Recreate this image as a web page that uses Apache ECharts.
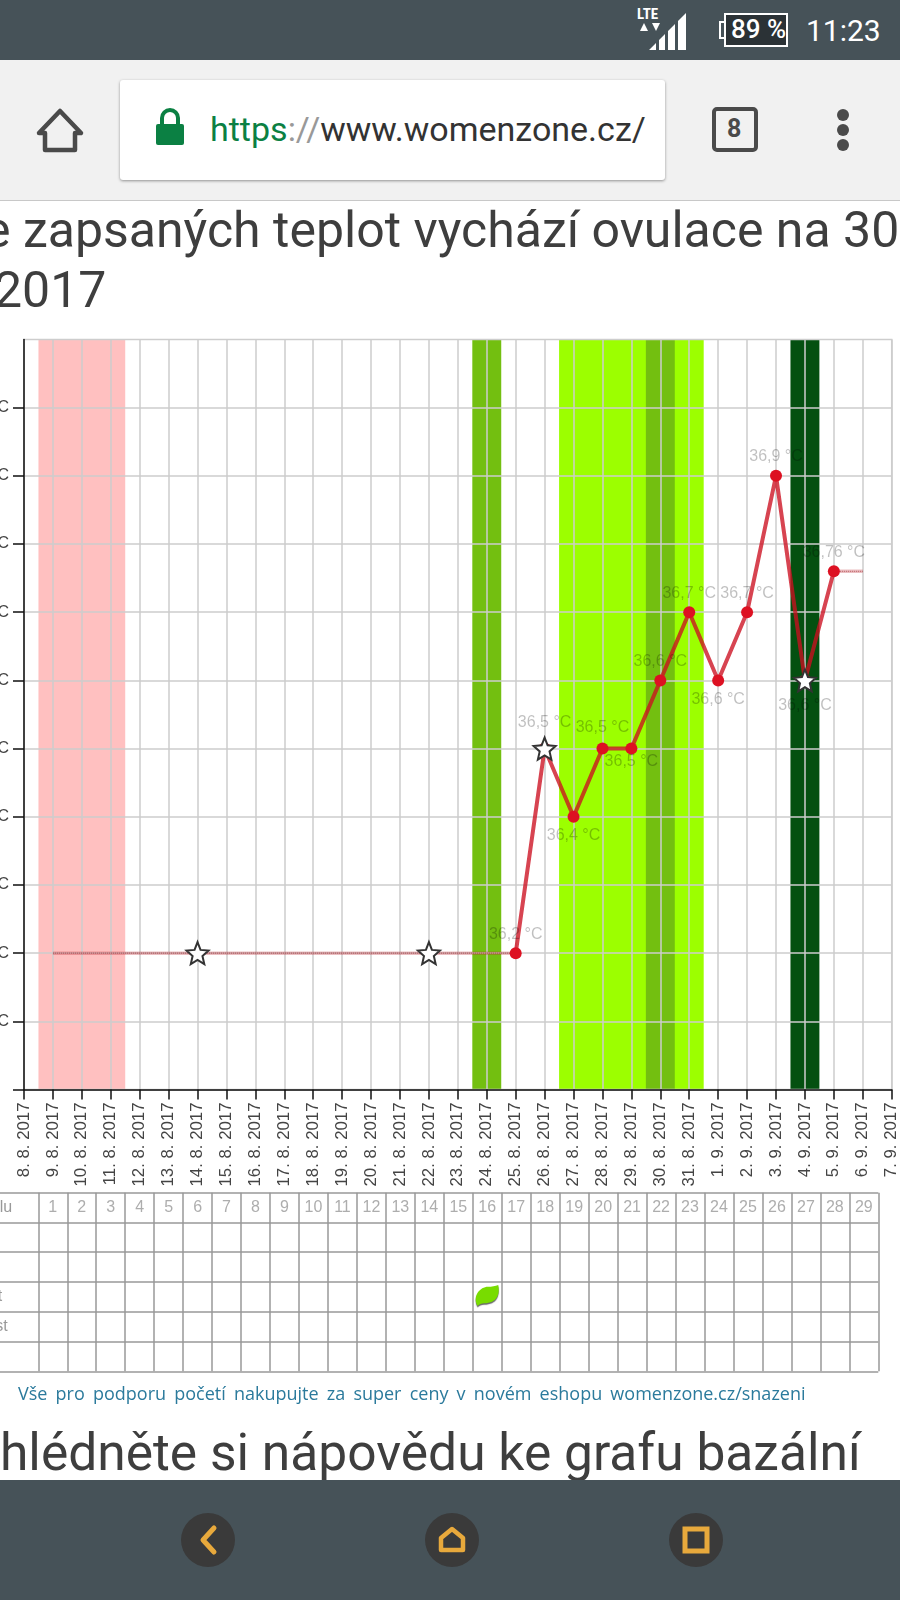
<!DOCTYPE html>
<html lang="cs">
<head>
<meta charset="utf-8">
<title>Graf bazální teploty</title>
<script src="https://cdn.jsdelivr.net/npm/echarts@6/dist/echarts.min.js"></script>
<style>
    html, body { margin: 0; padding: 0; background: #fff; }
    #page { position: relative; width: 900px; height: 1600px; overflow: hidden; background: #fff; }
    #chart { position: absolute; left: 0; top: 0; width: 900px; height: 1600px; }
    .abs { position: absolute; white-space: nowrap; }
    .bar { position: absolute; left: 0; width: 900px; background: #465258; }
    .head { font-family: Roboto, sans-serif; font-size: 50px; color: #3e3e3e; line-height: 54px; }
    svg { position: absolute; overflow: visible; }
</style>
</head>
<body>
<div id="page">
    <div id="chart"></div>

    <!-- nadpisy stranky -->
    <div class="abs head" style="left:-16px;top:203px;">e zapsaných teplot vychází ovulace na 30</div>
    <div class="abs head" style="left:-6px;top:263px;">2017</div>
    <div class="abs" style="left:18px;top:1381px;font:18px 'Open Sans',sans-serif;word-spacing:3.5px;color:#2b7a9c;">Vše pro podporu početí nakupujte za super ceny v novém eshopu womenzone.cz/snazeni</div>
    <div class="abs head" style="left:0;top:1426px;font-size:51.5px;">hlédněte si nápovědu ke grafu bazální</div>

    <!-- horni lista telefonu -->
    <div class="bar" style="top:0;height:60px;"></div>
    <div class="abs" style="left:637px;top:5px;font:bold 15px 'Roboto Condensed',Roboto,sans-serif;color:#fff;">LTE</div>
    <svg style="left:0;top:0;" width="900" height="60">
        <path d="M640 31 L644 23 L648 31 Z M652 23 L660 23 L656 31 Z" fill="#fff"/>
        <path d="M649 50 L656 43 L656 50 Z M659 50 L659 40 L665 34 L665 50 Z M668 50 L668 31 L675 24 L675 50 Z M678 50 L678 21 L686 13 L686 50 Z" fill="#fff"/>
        <rect x="725" y="14" width="62" height="32" fill="#2b3236" stroke="#fff" stroke-width="2"/>
        <path d="M725 22 L720 22 L720 38 L725 38" fill="none" stroke="#fff" stroke-width="2"/>
    </svg>
    <div class="abs" style="left:731px;top:14px;font:500 26px Roboto,sans-serif;color:#fff;">89 %</div>
    <div class="abs" style="left:806px;top:13px;font:400 30px Roboto,sans-serif;color:#fff;">11:23</div>

    <!-- lista prohlizece -->
    <div class="bar" style="top:60px;height:140px;background:#f1f1f1;border-bottom:1px solid #c8c8c8;"></div>
    <div class="abs" style="left:120px;top:80px;width:545px;height:100px;background:#fff;border-radius:3px;box-shadow:0 1px 3px rgba(0,0,0,.4);"></div>
    <svg style="left:0;top:0;" width="900" height="200">
        <path d="M60 111 L81 133 L75 133 L75 150 L45 150 L45 133 L39 133 Z" fill="none" stroke="#4a4a4a" stroke-width="4.5" stroke-linejoin="round"/>
        <rect x="156" y="124" width="28" height="21" rx="2" fill="#0b8043"/>
        <path d="M162 125 L162 118 A8 8 0 0 1 178 118 L178 125" fill="none" stroke="#0b8043" stroke-width="4"/>
        <rect x="714" y="109" width="42" height="41" rx="3" fill="none" stroke="#4a4a4a" stroke-width="4"/>
        <circle cx="843" cy="115" r="6" fill="#4a4a4a"/>
        <circle cx="843" cy="130" r="6" fill="#4a4a4a"/>
        <circle cx="843" cy="145" r="6" fill="#4a4a4a"/>
    </svg>
    <div class="abs" style="left:727px;top:114px;font:bold 25px Roboto,sans-serif;color:#4a4a4a;">8</div>
    <div class="abs" style="left:210px;top:109px;font:34px Roboto,sans-serif;color:#333;"><span style="color:#0b8043;">https</span><span style="color:#999;">://</span>www.womenzone.cz/</div>

    <!-- spodni lista telefonu -->
    <div class="bar" style="top:1480px;height:120px;"></div>
    <svg style="left:0;top:1480px;" width="900" height="120">
        <circle cx="208" cy="60" r="27" fill="#3a3a3a"/>
        <circle cx="452" cy="60" r="27" fill="#3a3a3a"/>
        <circle cx="696" cy="60" r="27" fill="#3a3a3a"/>
        <path d="M214 48 L203 60 L214 72" fill="none" stroke="#e8a93c" stroke-width="5" stroke-linecap="round" stroke-linejoin="round"/>
        <path d="M452 49 L463 58 L463 70 L441 70 L441 58 Z" fill="none" stroke="#e8a93c" stroke-width="4.5" stroke-linejoin="round"/>
        <rect x="685" y="49" width="22" height="22" fill="none" stroke="#e8a93c" stroke-width="5"/>
    </svg>
</div>

<script>
    // datumy na ose x
    const dateLabels = [
        '8. 8. 2017', '9. 8. 2017', '10. 8. 2017', '11. 8. 2017', '12. 8. 2017', '13. 8. 2017', '14. 8. 2017',
        '15. 8. 2017', '16. 8. 2017', '17. 8. 2017', '18. 8. 2017', '19. 8. 2017', '20. 8. 2017', '21. 8. 2017',
        '22. 8. 2017', '23. 8. 2017', '24. 8. 2017', '25. 8. 2017', '26. 8. 2017', '27. 8. 2017', '28. 8. 2017',
        '29. 8. 2017', '30. 8. 2017', '31. 8. 2017', '1. 9. 2017', '2. 9. 2017', '3. 9. 2017', '4. 9. 2017',
        '5. 9. 2017', '6. 9. 2017', '7. 9. 2017'
    ];

    // zapsane teploty (tlusta cara)
    const measuredTemps = [
        null, null, null, null, null, null, null, null, null, null, null, null, null, null, null, null, null,
        36.2, 36.5, 36.4, 36.5, 36.5, 36.6, 36.7, 36.6, 36.7, 36.9, 36.6, 36.76,
        null, null
    ];

    // dny bez zapisu (slaba cara)
    const carriedTemps = [
        null, 36.2, 36.2, 36.2, 36.2, 36.2, 36.2, 36.2, 36.2, 36.2, 36.2, 36.2, 36.2, 36.2, 36.2, 36.2, 36.2, 36.2,
        null, null, null, null, null, null, null, null, null, null,
        36.76, 36.76, null
    ];

    // hvezdicky
    const starDays = [6, 14, 18, 27];
    const starTemps = [36.2, 36.2, 36.5, 36.6];

    // hodnoty na ose y
    const yTicks = [36, 36.1, 36.2, 36.3, 36.4, 36.5, 36.6, 36.7, 36.8, 36.9, 37];
    const yTickLabels = ['', '36,1 °C', '36,2 °C', '36,3 °C', '36,4 °C', '36,5 °C', '36,6 °C', '36,7 °C', '36,8 °C', '36,9 °C', '37 °C'];

    // barevne pasy, rozsah ve dnech
    const periodBand = [0.5, 3.5];
    const fertileBand = [18.5, 23.5];
    const mucusBands = [[15.5, 16.5], [21.5, 22.5]];
    const ovulationBand = [26.5, 27.5];

    // tabulka pod grafem
    const cycleDays = [1, 2, 3, 4, 5, 6, 7, 8, 9, 10, 11, 12, 13, 14, 15, 16, 17, 18, 19, 20, 21, 22, 23, 24, 25, 26, 27, 28, 29];
    const rowLabels = ['lu', '', '', 't', 'st', ''];
    const tableRows = [0, 1, 2, 3, 4, 5];
    const leafCell = [16, 3];

    const starPath = 'path://M12 1 L15.1 8.6 L23.4 9.3 L17.1 14.6 L19 22.6 L12 18.4 L5 22.6 L6.9 14.6 L.6 9.3 L8.9 8.6 Z';
    const leafPath = 'path://M3 23 C-3 12 6 2 14 2 C18 2 22 1 25 0 C27 10 24 20 10 20 C7 20 5 21 3 23 Z';

    // posun popisku, aby sedel k bodum
    const labelBelow = [19, 21, 24, 27];
    const labelShift = { 18: -7, 20: -2, 21: -6, 27: 6 };
    const rowLabelShift = { 0: -1.115, 3: -1.32, 4: -1.27 };

    function measuredPoints() {
        return measuredTemps.map((value, day) => {
            if (value === null) return [day, null];
            return {
                value: [day, value],
                label: {
                    position: labelBelow.includes(day) ? 'bottom' : 'top',
                    offset: [0, labelShift[day] || 0],
                },
            };
        });
    }

    function band(range, color) {
        return [{ xAxis: range[0], itemStyle: { color: color, opacity: 1 } }, { xAxis: range[1] }];
    }

    const gridLine = { show: true, lineStyle: { color: '#cdcdcd', width: 1.5 } };
    const cellLine = { show: true, lineStyle: { color: '#989898', width: 1.5 } };

    const myChart = echarts.init(document.getElementById('chart'));

    myChart.setOption({
        animation: false,
        textStyle: { fontFamily: '"Liberation Sans", Arial, sans-serif' },
        grid: [
            { left: 24, right: 8.3, top: 339.5, bottom: 510.5, outerBoundsMode: 'none', show: true, z: 2, borderColor: '#cdcdcd', borderWidth: 1.5, backgroundColor: 'transparent' },
            { left: 0, width: 878.3, top: 1192.7, height: 178.6, outerBoundsMode: 'none' },
        ],
        xAxis: [
            {
                type: 'value',
                gridIndex: 0,
                min: 0,
                max: 30,
                interval: 1,
                z: 2,
                splitLine: gridLine,
                axisLine: { onZero: false, lineStyle: { color: '#111', width: 1.5 } },
                axisTick: { length: 10, lineStyle: { color: '#111', width: 1.5 } },
                axisLabel: {
                    rotate: 90,
                    margin: 13,
                    fontSize: 16.8,
                    color: '#444',
                    hideOverlap: false,
                    formatter: (value) => dateLabels[value],
                },
            },
            {
                type: 'value',
                gridIndex: 1,
                min: -1.322,
                max: 29,
                splitLine: cellLine,
                axisLine: { show: false },
                axisTick: { show: false, customValues: [0].concat(cycleDays) },
                axisLabel: { show: false },
            },
        ],
        yAxis: [
            {
                type: 'value',
                gridIndex: 0,
                min: 36,
                max: 37.1,
                z: 2,
                splitLine: gridLine,
                axisLine: { onZero: false, lineStyle: { color: '#111', width: 1.5 } },
                axisTick: { length: 11, customValues: yTicks, lineStyle: { color: '#111', width: 1.5 } },
                axisLabel: {
                    customValues: yTicks,
                    margin: 15,
                    fontSize: 16,
                    color: '#444',
                    formatter: (value) => yTickLabels[yTicks.findIndex((tick) => Math.abs(tick - value) < 0.001)],
                },
            },
            {
                type: 'value',
                gridIndex: 1,
                inverse: true,
                min: 0,
                max: 6,
                interval: 1,
                splitLine: cellLine,
                axisLine: { show: false },
                axisTick: { show: false },
                axisLabel: { show: false },
            },
        ],
        series: [
            // barevne pasy
            {
                type: 'line',
                xAxisIndex: 0,
                yAxisIndex: 0,
                data: [],
                silent: true,
                markArea: {
                    silent: true,
                    z: 1,
                    data: [
                        band(periodBand, '#ffc0c0'),
                        band(fertileBand, '#9cff00'),
                        band(mucusBands[0], '#73bf10'),
                        band(mucusBands[1], '#73bf10'),
                        band(ovulationBand, '#045010'),
                    ],
                },
            },
            // slaba cara
            {
                type: 'line',
                xAxisIndex: 0,
                yAxisIndex: 0,
                z: 3,
                symbol: 'none',
                data: carriedTemps.map((value, day) => [day, value]),
                lineStyle: { color: 'rgba(190, 40, 50, 0.3)', width: 3.5 },
            },
            {
                type: 'line',
                xAxisIndex: 0,
                yAxisIndex: 0,
                z: 3,
                symbol: 'none',
                data: carriedTemps.map((value, day) => [day, value]),
                lineStyle: { color: 'rgba(150, 20, 30, 0.6)', width: 1, type: 'dotted' },
            },
            // zapsane teploty
            {
                type: 'line',
                xAxisIndex: 0,
                yAxisIndex: 0,
                z: 4,
                symbol: 'circle',
                symbolSize: 12,
                data: measuredPoints(),
                lineStyle: { color: 'rgba(204, 16, 32, 0.78)', width: 4 },
                itemStyle: { color: '#dd1122' },
                label: {
                    show: true,
                    fontSize: 16,
                    color: 'rgba(0, 0, 0, 0.25)',
                    formatter: (params) => String(params.value[1]).replace('.', ',') + ' °C',
                },
            },
            // hvezdicky
            {
                type: 'scatter',
                xAxisIndex: 0,
                yAxisIndex: 0,
                z: 5,
                symbol: starPath,
                symbolSize: 22,
                data: starDays.map((day, i) => [day, starTemps[i]]),
                itemStyle: { color: '#fff', borderColor: '#333', borderWidth: 2, opacity: 1 },
            },
            // cisla dnu cyklu
            {
                type: 'scatter',
                xAxisIndex: 1,
                yAxisIndex: 1,
                symbolSize: 1,
                data: cycleDays.map((day) => [day - 0.5, 0.5]),
                itemStyle: { color: 'transparent' },
                label: {
                    show: true,
                    position: 'inside',
                    fontSize: 16,
                    color: '#999',
                    formatter: (params) => String(cycleDays[params.dataIndex]),
                },
            },
            // popisky radku, zleva oriznute
            {
                type: 'scatter',
                xAxisIndex: 1,
                yAxisIndex: 1,
                symbolSize: 1,
                data: tableRows.map((row) => [rowLabelShift[row] || -1.2, row + 0.5]),
                itemStyle: { color: 'transparent' },
                label: {
                    show: true,
                    position: 'inside',
                    fontSize: 16,
                    color: '#808080',
                    formatter: (params) => rowLabels[params.dataIndex],
                },
            },
            // listek v tabulce
            {
                type: 'scatter',
                xAxisIndex: 1,
                yAxisIndex: 1,
                symbol: leafPath,
                symbolSize: [23, 21],
                data: [[leafCell[0] - 0.5, leafCell[1] + 0.45]],
                itemStyle: { color: '#78dc00', shadowColor: 'rgba(0, 0, 0, 0.6)', shadowBlur: 1, shadowOffsetY: 1.5, opacity: 1 },
            },
        ],
    });
</script>
</body>
</html>
